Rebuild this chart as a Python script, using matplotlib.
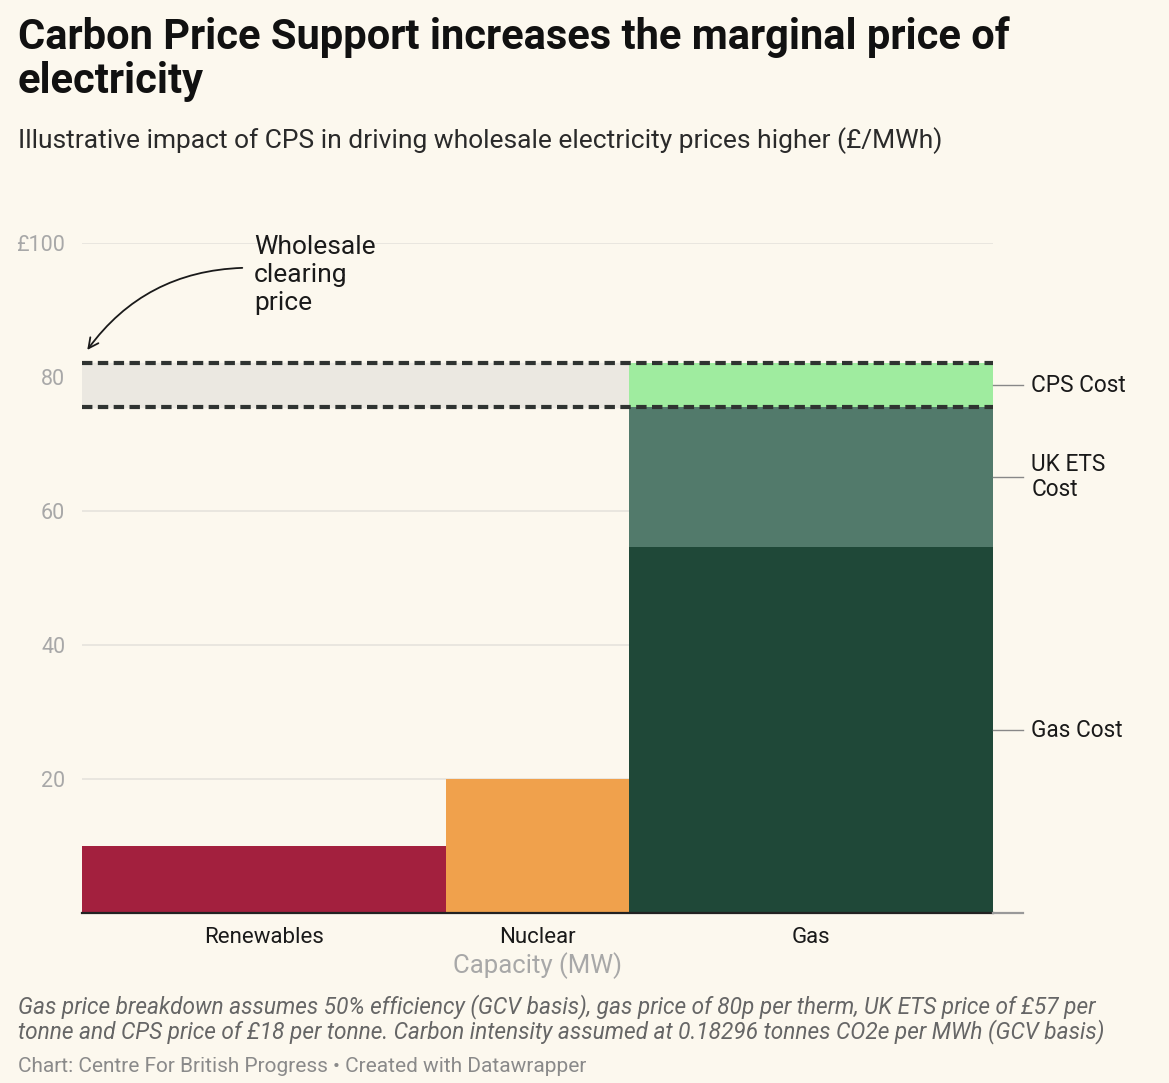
import numpy as np
import matplotlib.pyplot as plt

# data
sources = ['Renewables', 'Nuclear', 'Gas']
capacity = [4, 2, 4]          # relative width of each block (MW)
price = [10, 20]              # renewables, nuclear (£/MWh)
gas_parts = ['Gas Cost', 'UK ETS\nCost', 'CPS Cost']
gas_values = [54.59, 20.86, 6.59]
yticks = [20, 40, 60, 80, 100]
ytick_labels = ['20', '40', '60', '80', '£100']

bg = '#fcf8ee'
c_ren = '#a3203e'
c_nuc = '#f0a14c'
gas_cols = ['#1f4838', '#527a6b', '#9fec9f']

plt.rcParams['font.family'] = ['Roboto', 'DejaVu Sans']

W, H = 1169, 1083
fig = plt.figure(figsize=(W/100, H/100), dpi=100, facecolor=bg)
ax = fig.add_axes([82/W, 170/H, (993-82)/W, (913-243)/H])
ax.set_facecolor(bg)
ax.set_xlim(0, sum(capacity))
ax.set_ylim(0, 100)

edges = np.concatenate([[0], np.cumsum(capacity)])
centers = (edges[:-1] + edges[1:]) / 2

# grid
for y in yticks:
    ax.axhline(y, color='#e6e3dc', lw=1.2, zorder=0)

ax.bar(edges[0], price[0], width=capacity[0], align='edge', color=c_ren, zorder=2)
ax.bar(edges[1], price[1], width=capacity[1], align='edge', color=c_nuc, zorder=2)
bottom = 0
mids = []
for v, c in zip(gas_values, gas_cols):
    ax.bar(edges[2], v, width=capacity[2], bottom=bottom, align='edge', color=c, zorder=2)
    mids.append(bottom + v/2)
    bottom += v

low = gas_values[0] + gas_values[1]
high = bottom
# clearing price band
ax.fill_between([edges[0], edges[2]], low, high, color='#ebe8e1', zorder=1)
for y in [low, high]:
    ax.axhline(y, color='#2f3331', lw=3, ls=(0, (2.5, 1.3)), zorder=3)

# right labels
for lab, m in zip(gas_parts, mids):
    ax.plot([edges[3], edges[3] + 0.33], [m, m], color='#888888', lw=1, clip_on=False)
    ax.text(edges[3] + 0.42, m, lab, fontsize=16.3, va='center', ha='left', color='#1a1a1a',
            linespacing=1.1)

# baseline
ax.plot([edges[0], edges[3]], [0, 0], color='#222222', lw=1.6, clip_on=False, zorder=4)
ax.plot([edges[3], edges[3] + 0.33], [0, 0], color='#999999', lw=1.6, clip_on=False, zorder=4)

for s in ax.spines.values():
    s.set_visible(False)
ax.set_yticks(yticks)
ax.set_yticklabels(ytick_labels, fontsize=15.5, color='#a8a8a8')
ax.tick_params(axis='y', length=0, pad=12)
ax.set_xticks(centers)
ax.set_xticklabels(sources, fontsize=16, color='#1a1a1a')
ax.tick_params(axis='x', length=0, pad=10)
ax.set_xlabel('Capacity (MW)', fontsize=18.5, color='#a8a8a8', labelpad=3)

# annotation
ax.text(1.89, 101.2, 'Wholesale\nclearing\nprice', fontsize=19, va='top', ha='left',
        color='#1a1a1a', linespacing=1.2)
ax.annotate('', xy=(0.04, 83.7), xytext=(1.79, 96.3),
            arrowprops=dict(arrowstyle='->', color='#1a1a1a', lw=1.3,
                            connectionstyle='arc3,rad=0.25', mutation_scale=18))

# titles
fig.text(18/W, 1 - 37/H, 'Carbon Price Support increases the marginal price of',
         fontsize=30, fontweight='bold', va='center', ha='left', color='#111111')
fig.text(18/W, 1 - 82/H, 'electricity', fontsize=30, fontweight='bold',
         va='center', ha='left', color='#111111')
fig.text(18/W, 1 - 141/H, 'Illustrative impact of CPS in driving wholesale electricity prices higher (£/MWh)',
         fontsize=19, va='center', ha='left', color='#2a2a2a')

fig.text(18/W, 1 - 1007/H, 'Gas price breakdown assumes 50% efficiency (GCV basis), gas price of 80p per therm, UK ETS price of £57 per',
         fontsize=16.3, style='italic', va='center', ha='left', color='#666666')
fig.text(18/W, 1 - 1032/H, 'tonne and CPS price of £18 per tonne. Carbon intensity assumed at 0.18296 tonnes CO2e per MWh (GCV basis)',
         fontsize=16.3, style='italic', va='center', ha='left', color='#666666')
fig.text(18/W, 1 - 1067/H, 'Chart: Centre For British Progress • Created with Datawrapper',
         fontsize=15, va='center', ha='left', color='#8a8a8a')

fig.savefig('out.png', dpi=100, facecolor=bg)
